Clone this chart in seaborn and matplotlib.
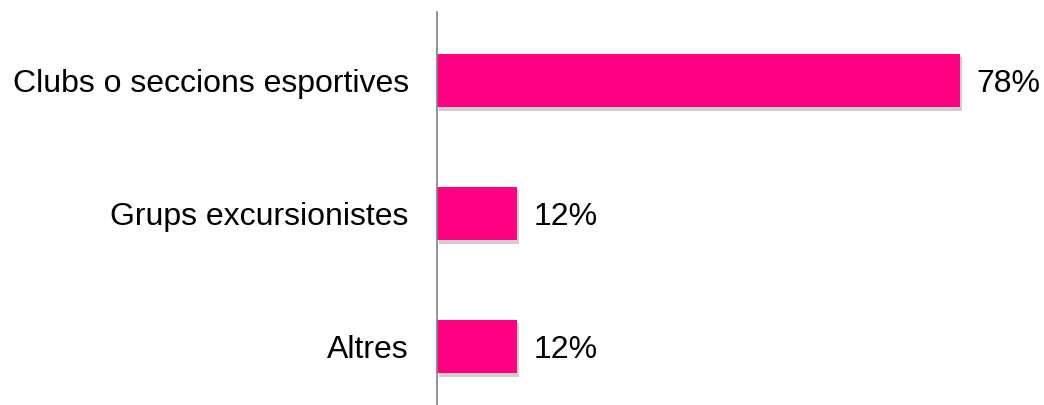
import matplotlib
matplotlib.use("Agg")
import matplotlib.pyplot as plt
import matplotlib.patheffects as pe
import seaborn as sns
import pandas as pd

categories = ["Clubs o seccions esportives", "Grups excursionistes", "Altres"]
values = [78, 12, 12]
value_labels = ["78%", "12%", "12%"]

sns.set_style("white")
plt.rcParams['font.family'] = ['Liberation Sans', 'DejaVu Sans']

df = pd.DataFrame({"cat": categories, "val": values})

fig = plt.figure(figsize=(10.44, 4.05), dpi=100)
W, H = 1044, 405
x0 = 436.5
ax = fig.add_axes([x0 / W, 0, (W - x0) / W, (405 - 12) / H])

sns.barplot(data=df, y="cat", x="val", orient="h", color="#FF0080",
            saturation=1, width=0.4, linewidth=0, ax=ax)

for p in ax.patches:
    p.set_linewidth(0)
    p.set_path_effects([pe.SimplePatchShadow(offset=(1.5, -2.5), shadow_rgbFace='#606060', alpha=0.3),
                        pe.Normal()])

px_per_unit = (960 - 436.5) / 78
ax.set_xlim(0, (W - x0) / px_per_unit)
ax.set_ylim(2.44, -0.515)

for i, (v, lab) in enumerate(zip(values, value_labels)):
    ax.annotate(lab, xy=(v, i), xytext=(12, 0), textcoords="offset points",
                ha="left", va="center_baseline", fontsize=23, color="black")

ax.set_xlabel("")
ax.set_ylabel("")
ax.set_xticks([])
ax.tick_params(axis="y", length=0, pad=20, labelsize=23, labelcolor="black")
for s in ["top", "right", "bottom"]:
    ax.spines[s].set_visible(False)
ax.spines["left"].set_color("#808080")
ax.spines["left"].set_linewidth(1.2)

fig.savefig("out.png", dpi=100)
